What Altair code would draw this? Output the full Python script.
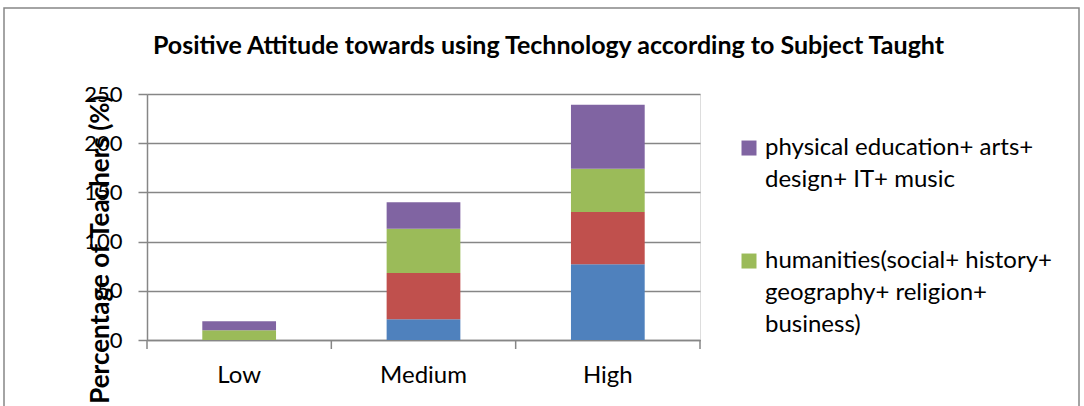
import altair as alt
import pandas as pd

# Stacked bars: share of teachers with a positive attitude towards technology,
# split by attitude level and by the subject group they teach.
categories = ["Low", "Medium", "High"]
series = [
    "sciences+ mathematics",
    "languages",
    "humanities(social+ history+ geography+ religion+ business)",
    "physical education+ arts+ design+ IT+ music",
]
colors = ["#4F81BD", "#C0504D", "#9BBB59", "#8064A2"]

blue_vals = [0, 21, 77]
red_vals = [0, 47, 53]
green_vals = [10, 45, 44]
purple_vals = [9, 27, 65]
values = [blue_vals, red_vals, green_vals, purple_vals]

y_ticks = [0, 50, 100, 150, 200, 250]

# legend shows the top two groups, wrapped over several lines
legend_shown = [series[3], series[2]]
legend_lines = {
    series[3]: ["physical education+ arts+", "design+ IT+ music"],
    series[2]: ["humanities(social+ history+", "geography+ religion+", "business)"],
}

title_text = "Positive Attitude towards using Technology according to Subject Taught"
y_title = "Percentage of Teachers (%)"

FONT = "Lato"
GRID = "#868686"
W, H = 553, 246

# square legend swatch, raised so it lines up with the first text line
SWATCH = "M-1,-1.93H1V0.07H-1Z"

rows = []
for i, (name, vals) in enumerate(zip(series, values)):
    for cat, v in zip(categories, vals):
        rows.append({"level": cat, "subject": name, "order": i, "value": v})
df = pd.DataFrame(rows)


def js_list(items):
    return "[" + ", ".join("'" + s + "'" for s in items) + "]"


label_expr = ""
for name, lines in legend_lines.items():
    label_expr += f"datum.label == '{name}' ? {js_list(lines)} : "
label_expr += "datum.label"

bars = alt.Chart(df).mark_bar().encode(
    x=alt.X(
        "level:N",
        sort=categories,
        scale=alt.Scale(paddingInner=0.6, paddingOuter=0.3),
        axis=alt.Axis(
            title=None,
            labelAngle=0,
            ticks=False,
            grid=False,
            domain=True,
            domainColor=GRID,
            domainWidth=1.5,
            labelFontSize=24,
            labelFont=FONT,
            labelColor="black",
            labelPadding=23,
        ),
    ),
    y=alt.Y(
        "value:Q",
        stack="zero",
        scale=alt.Scale(domain=[0, 250], nice=False),
        axis=alt.Axis(
            values=y_ticks,
            grid=True,
            gridColor=GRID,
            gridWidth=1.5,
            domain=True,
            domainColor=GRID,
            domainWidth=1.5,
            ticks=True,
            tickColor=GRID,
            tickWidth=1.5,
            tickSize=9,
            labelFontSize=22,
            labelFont=FONT,
            labelColor="black",
            labelPadding=16,
            title=y_title,
            titleFont=FONT,
            titleFontSize=26,
            titleFontWeight="bold",
            titleColor="black",
            titleAngle=-90,
            titleX=-47,
            titleY=155,
            titleAlign="center",
            titleBaseline="middle",
        ),
    ),
    color=alt.Color(
        "subject:N",
        scale=alt.Scale(domain=series, range=colors),
        legend=alt.Legend(
            values=legend_shown,
            title=None,
            orient="none",
            legendX=590,
            legendY=49,
            padding=0,
            symbolType=SWATCH,
            symbolSize=225,
            symbolStrokeWidth=0,
            labelFont=FONT,
            labelFontSize=24,
            labelColor="black",
            labelLimit=400,
            labelOffset=4,
            labelBaseline="alphabetic",
            labelExpr=label_expr,
            rowPadding=57,
        ),
    ),
    order=alt.Order("order:Q", sort="ascending"),
)

# tick marks on the category axis sit at the band boundaries
tick_df = pd.DataFrame({"b": list(range(len(categories) + 1))})
cat_ticks = alt.Chart(tick_df).mark_rule(color=GRID, strokeWidth=1.5).encode(
    x=alt.X("b:Q", scale=alt.Scale(domain=[0, len(categories)]), axis=None),
    y=alt.value(H),
    y2=alt.value(H + 9),
)

# thin frame around the whole chart
frame = alt.Chart(pd.DataFrame({"a": [0]})).mark_rect(
    fillOpacity=0, stroke=GRID, strokeWidth=1.5
).encode(
    x=alt.value(-143), x2=alt.value(932), y=alt.value(-86), y2=alt.value(330)
)

chart = (
    alt.layer(frame, bars, cat_ticks)
    .resolve_scale(x="independent")
    .properties(
        width=W,
        height=H,
        title=alt.TitleParams(
            title_text,
            font=FONT,
            fontSize=25,
            fontWeight="bold",
            color="black",
            anchor="middle",
            frame="group",
            dx=125,
            dy=52,
            offset=0,
        ),
        autosize=alt.AutoSizeParams(type="none"),
        padding={"left": 147, "top": 94, "right": 384, "bottom": 66},
    )
    .configure_view(stroke=None)
    .configure(background="white", style={"guide-label": {"lineHeight": 32}})
)

chart.save("out.html", embed_options={"renderer": "svg", "actions": False})
